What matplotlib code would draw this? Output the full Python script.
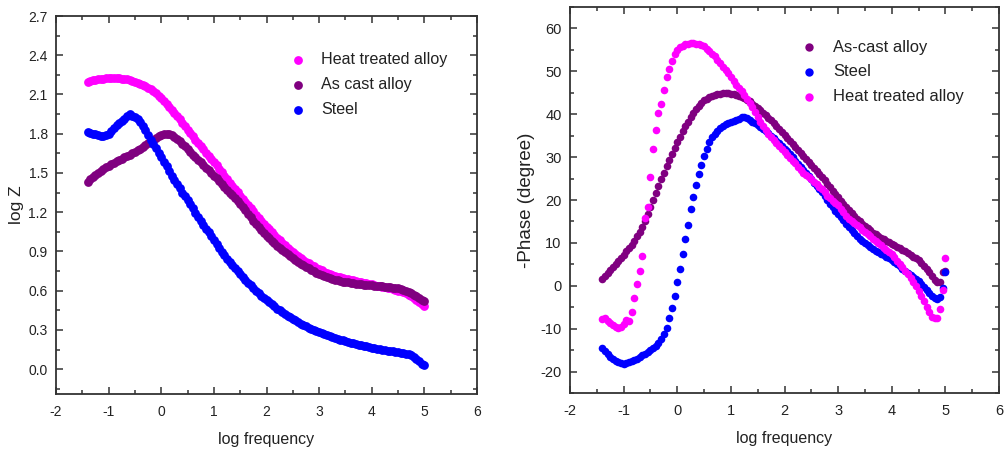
import numpy as np
import matplotlib
matplotlib.use("Agg")
import matplotlib.pyplot as plt
from matplotlib.ticker import MultipleLocator, FormatStrFormatter

plt.rcParams['font.family'] = ['Liberation Sans', 'DejaVu Sans']
plt.rcParams['axes.unicode_minus'] = False

# Frequency sweep: log10(f) from 0.04 Hz up to 100 kHz, 20 points per decade
log_freq = np.round(np.arange(-1.4, 5.0 + 1e-9, 0.05), 2)

# ---- Bode magnitude, log|Z| ----
heat_treated_logz = [
    2.197, 2.202, 2.207, 2.211, 2.215, 2.219, 2.222, 2.225, 2.228, 2.228,
    2.228, 2.227, 2.225, 2.222, 2.219, 2.215, 2.210, 2.204, 2.196, 2.188,
    2.180, 2.171, 2.162, 2.151, 2.140, 2.125, 2.108, 2.090, 2.070, 2.050,
    2.030, 2.008, 1.985, 1.960, 1.935, 1.910, 1.885, 1.858, 1.832, 1.806,
    1.780, 1.755, 1.730, 1.705, 1.680, 1.656, 1.632, 1.608, 1.585, 1.558,
    1.532, 1.505, 1.478, 1.452, 1.426, 1.400, 1.375, 1.351, 1.327, 1.303,
    1.280, 1.255, 1.230, 1.206, 1.182, 1.159, 1.136, 1.113, 1.090, 1.068,
    1.047, 1.026, 1.005, 0.986, 0.967, 0.948, 0.930, 0.913, 0.897, 0.881,
    0.865, 0.851, 0.837, 0.823, 0.810, 0.798, 0.787, 0.776, 0.765, 0.755,
    0.746, 0.737, 0.728, 0.721, 0.714, 0.708, 0.702, 0.697, 0.692, 0.687,
    0.683, 0.678, 0.674, 0.669, 0.665, 0.661, 0.657, 0.652, 0.648, 0.644,
    0.639, 0.635, 0.630, 0.626, 0.621, 0.617, 0.612, 0.607, 0.601, 0.595,
    0.588, 0.580, 0.570, 0.558, 0.545, 0.531, 0.515, 0.498, 0.480,
]
as_cast_logz = [
    1.430, 1.450, 1.470, 1.485, 1.500, 1.515, 1.530, 1.543, 1.555, 1.567,
    1.578, 1.589, 1.600, 1.610, 1.620, 1.630, 1.640, 1.650, 1.660, 1.672,
    1.685, 1.698, 1.712, 1.726, 1.740, 1.754, 1.768, 1.780, 1.790, 1.798,
    1.800, 1.797, 1.788, 1.775, 1.760, 1.743, 1.725, 1.705, 1.685, 1.663,
    1.640, 1.620, 1.600, 1.580, 1.560, 1.540, 1.520, 1.500, 1.480, 1.459,
    1.438, 1.416, 1.395, 1.373, 1.350, 1.328, 1.305, 1.283, 1.260, 1.238,
    1.215, 1.190, 1.163, 1.136, 1.110, 1.087, 1.064, 1.042, 1.020, 1.000,
    0.981, 0.963, 0.945, 0.928, 0.911, 0.894, 0.878, 0.863, 0.848, 0.834,
    0.820, 0.807, 0.794, 0.782, 0.770, 0.759, 0.748, 0.737, 0.727, 0.718,
    0.710, 0.702, 0.695, 0.689, 0.684, 0.679, 0.674, 0.670, 0.666, 0.663,
    0.660, 0.657, 0.654, 0.651, 0.649, 0.647, 0.645, 0.642, 0.640, 0.638,
    0.636, 0.634, 0.632, 0.630, 0.628, 0.626, 0.624, 0.621, 0.618, 0.614,
    0.608, 0.601, 0.592, 0.582, 0.570, 0.558, 0.545, 0.532, 0.518,
]
steel_logz = [
    1.810, 1.805, 1.800, 1.795, 1.790, 1.785, 1.785, 1.790, 1.800, 1.820,
    1.845, 1.865, 1.880, 1.895, 1.910, 1.935, 1.950, 1.935, 1.925, 1.910,
    1.890, 1.860, 1.825, 1.790, 1.755, 1.720, 1.690, 1.655, 1.620, 1.585,
    1.550, 1.515, 1.480, 1.447, 1.415, 1.382, 1.350, 1.320, 1.290, 1.260,
    1.230, 1.197, 1.165, 1.135, 1.105, 1.075, 1.045, 1.015, 0.985, 0.955,
    0.925, 0.897, 0.870, 0.845, 0.820, 0.795, 0.770, 0.747, 0.725, 0.703,
    0.682, 0.661, 0.640, 0.620, 0.600, 0.581, 0.562, 0.544, 0.527, 0.511,
    0.495, 0.479, 0.463, 0.449, 0.435, 0.421, 0.408, 0.396, 0.384, 0.372,
    0.360, 0.349, 0.339, 0.328, 0.318, 0.309, 0.300, 0.291, 0.283, 0.275,
    0.267, 0.259, 0.252, 0.245, 0.239, 0.232, 0.226, 0.220, 0.214, 0.208,
    0.203, 0.198, 0.193, 0.188, 0.183, 0.178, 0.174, 0.169, 0.165, 0.161,
    0.156, 0.152, 0.148, 0.145, 0.141, 0.138, 0.135, 0.132, 0.128, 0.125,
    0.122, 0.118, 0.112, 0.105, 0.095, 0.080, 0.062, 0.040, 0.030,
]

# ---- Bode phase, -phase in degrees ----
as_cast_phase = [
    1.6, 2.3, 3.0, 3.7, 4.4, 5.1, 5.8, 6.5, 7.2, 8.0,
    8.8, 9.6, 10.5, 11.5, 12.6, 13.8, 15.2, 16.7, 18.3, 19.9,
    21.6, 23.2, 24.8, 26.4, 27.9, 29.4, 30.8, 32.2, 33.5, 34.8,
    36.0, 37.2, 38.3, 39.3, 40.3, 41.2, 42.0, 42.6, 43.2, 43.6,
    44.0, 44.3, 44.5, 44.7, 44.8, 44.9, 44.9, 44.9, 44.8, 44.7,
    44.5, 44.3, 44.1, 43.8, 43.4, 43.0, 42.5, 42.0, 41.5, 41.0,
    40.4, 39.8, 39.2, 38.6, 38.0, 37.3, 36.6, 35.9, 35.2, 34.5,
    33.8, 33.1, 32.4, 31.7, 31.0, 30.3, 29.6, 28.9, 28.2, 27.5,
    26.8, 26.1, 25.3, 24.6, 23.8, 23.0, 22.2, 21.4, 20.6, 19.8,
    19.1, 18.4, 17.7, 17.0, 16.3, 15.6, 15.0, 14.4, 13.9, 13.4,
    12.9, 12.4, 12.0, 11.6, 11.2, 10.8, 10.5, 10.1, 9.8, 9.4,
    9.1, 8.7, 8.4, 8.0, 7.6, 7.2, 6.8, 6.4, 5.9, 5.3,
    4.7, 4.0, 3.2, 2.3, 1.4, 0.9, 0.9, 3.3, 3.5,
]
steel_phase = [
    -14.5, -15.2, -15.9, -16.5, -17.0, -17.5, -17.8, -18.1, -18.2, -18.0,
    -17.8, -17.6, -17.3, -17.0, -16.6, -16.2, -15.8, -15.4, -15.0, -14.6,
    -14.1, -13.4, -12.5, -11.2, -9.8, -7.6, -5.1, -2.3, 0.8, 4.0,
    7.4, 10.9, 14.2, 18.0, 20.7, 23.5, 26.0, 28.2, 30.2, 32.0,
    33.5, 34.6, 35.5, 36.2, 36.8, 37.3, 37.7, 38.0, 38.2, 38.4,
    38.7, 39.0, 39.3, 39.4, 39.1, 38.7, 38.3, 37.9, 37.5, 37.0,
    36.6, 36.1, 35.6, 35.0, 34.4, 33.8, 33.2, 32.6, 32.0, 31.4,
    30.7, 30.0, 29.2, 28.4, 27.6, 26.9, 26.2, 25.5, 24.8, 24.0,
    23.3, 22.5, 21.8, 20.9, 20.0, 19.1, 18.3, 17.5, 16.8, 16.0,
    15.3, 14.5, 13.7, 12.9, 12.2, 11.6, 11.0, 10.4, 9.9, 9.4,
    9.0, 8.6, 8.2, 7.8, 7.5, 7.1, 6.8, 6.4, 6.0, 5.5,
    5.0, 4.5, 4.0, 3.5, 3.0, 2.5, 2.0, 1.5, 1.0, 0.4,
    -0.2, -0.9, -1.6, -2.3, -2.8, -3.0, -2.7, -0.5, 3.2,
]
heat_treated_phase = [
    -7.8, -7.6, -8.1, -8.7, -9.2, -9.6, -9.8, -9.7, -9.0, -8.0,
    -8.3, -6.0, -2.8, 0.3, 3.4, 7.0, 15.7, 18.3, 25.4, 31.9,
    36.3, 40.2, 42.5, 45.6, 48.6, 50.6, 52.4, 54.0, 55.0, 55.6,
    56.0, 56.3, 56.4, 56.5, 56.5, 56.4, 56.3, 56.1, 55.8, 55.3,
    54.7, 54.1, 53.5, 52.7, 51.9, 51.1, 50.3, 49.5, 48.7, 47.8,
    46.9, 46.1, 45.3, 44.5, 43.6, 42.6, 41.6, 40.5, 39.4, 38.3,
    37.2, 36.3, 35.5, 34.7, 34.0, 33.3, 32.5, 31.8, 31.1, 30.5,
    29.9, 29.2, 28.6, 27.8, 27.0, 26.4, 25.9, 25.3, 24.8, 24.2,
    23.7, 23.1, 22.6, 21.8, 21.0, 20.4, 19.8, 19.3, 18.8, 18.0,
    17.1, 16.3, 15.6, 15.1, 14.6, 14.1, 13.6, 13.1, 12.6, 12.1,
    11.6, 11.0, 10.5, 9.9, 9.4, 8.9, 8.4, 7.9, 7.3, 6.6,
    5.8, 5.1, 4.3, 3.5, 2.7, 1.8, 0.9, -0.1, -1.2, -2.3,
    -3.5, -4.9, -6.1, -7.2, -7.6, -7.5, -5.4, -0.9, 6.4,
]

MAGENTA = '#FF00FF'
PURPLE = '#800080'
BLUE = '#0000FF'
SPINE = '#333333'
TEXT = '#222222'

fig = plt.figure(figsize=(10.08, 4.57), dpi=100)
W, H = 1008, 457


def add_axes_px(x0, y0, x1, y1):
    return fig.add_axes([x0 / W, 1 - y1 / H, (x1 - x0) / W, (y1 - y0) / H])


def style_axes(ax, labelsize):
    for sp in ax.spines.values():
        sp.set_color(SPINE)
        sp.set_linewidth(1.3)
    ax.tick_params(which='both', direction='in', top=True, right=True,
                   colors=SPINE, labelcolor=TEXT, labelsize=labelsize, width=1.1)
    ax.tick_params(which='major', length=5)
    ax.tick_params(which='minor', length=3)
    ax.tick_params(axis='x', pad=8)
    ax.tick_params(axis='y', pad=6)
    ax.xaxis.set_major_locator(MultipleLocator(1))
    ax.xaxis.set_minor_locator(MultipleLocator(0.5))
    ax.set_xlim(-2, 6)
    ax.set_xlabel('log frequency', fontsize=11.5, color=TEXT, labelpad=9)


# Left: |Z|
ax1 = add_axes_px(56, 16, 477, 394)
style_axes(ax1, 10)
ms_l = 40
ax1.scatter(log_freq, heat_treated_logz, s=ms_l, color=MAGENTA, lw=0, label='Heat treated alloy', zorder=3)
ax1.scatter(log_freq, as_cast_logz, s=ms_l, color=PURPLE, lw=0, label='As cast alloy', zorder=4)
ax1.scatter(log_freq, steel_logz, s=ms_l, color=BLUE, lw=0, label='Steel', zorder=5)
ax1.set_ylim(-0.19, 2.7)
ax1.yaxis.set_major_locator(MultipleLocator(0.3))
ax1.yaxis.set_minor_locator(MultipleLocator(0.15))
ax1.yaxis.set_major_formatter(FormatStrFormatter('%.1f'))
ax1.set_ylabel('log Z', fontsize=12.5, color=TEXT, labelpad=3)
ax1.legend(loc='upper left', bbox_to_anchor=(0.556, 0.905), frameon=False,
           fontsize=11.6, handlelength=1.0, handletextpad=0.93, labelspacing=0.62,
           borderpad=0, borderaxespad=0, scatterpoints=1, markerscale=1.0,
           labelcolor=TEXT)

# Right: phase
ax2 = add_axes_px(570, 7, 999, 393)
style_axes(ax2, 10.5)
ms_r = 30
ax2.scatter(log_freq, as_cast_phase, s=ms_r, color=PURPLE, lw=0, label='As-cast alloy', zorder=3)
ax2.scatter(log_freq, steel_phase, s=ms_r, color=BLUE, lw=0, label='Steel', zorder=4)
ax2.scatter(log_freq, heat_treated_phase, s=ms_r, color=MAGENTA, lw=0, label='Heat treated alloy', zorder=5)
ax2.set_ylim(-25, 65)
ax2.yaxis.set_major_locator(MultipleLocator(10))
ax2.yaxis.set_minor_locator(MultipleLocator(5))
ax2.set_ylabel('-Phase (degree)', fontsize=13.5, color=TEXT, labelpad=4)
ax2.legend(loc='upper left', bbox_to_anchor=(0.538, 0.915), frameon=False,
           fontsize=11.9, handlelength=1.0, handletextpad=0.95, labelspacing=0.58,
           borderpad=0, borderaxespad=0, scatterpoints=1, markerscale=1.1,
           labelcolor=TEXT)

fig.savefig('out.png', dpi=100)
